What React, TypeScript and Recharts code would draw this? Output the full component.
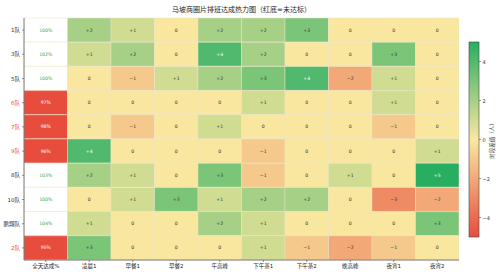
import React from 'react';
import { BarChart, Bar, XAxis, YAxis, Cell, LabelList } from 'recharts';

const title = '马坡商圈片排班达成热力图（红底=未达标）';
const teams = ['1队', '3队', '5队', '6队', '7队', '9队', '8队', '10队', '鹏翔队', '2队'];
const columns = ['全天达成%', '凌晨1', '早餐1', '早餐2', '午高峰', '下午茶1', '下午茶2', '晚高峰', '夜宵1', '夜宵2'];
const achievement = [100, 102, 100, 97, 98, 96, 103, 100, 104, 95];
const diff1 = [2, 1, 0, 0, 0, 4, 2, 0, 1, 3]; // 凌晨1
const diff2 = [1, 2, -1, 0, -1, 0, 1, 1, 0, 0]; // 早餐1
const diff3 = [0, 0, 1, 0, 0, 0, 0, 3, 0, 0]; // 早餐2
const diff4 = [2, 4, 2, 0, 1, 0, 3, 1, 2, 0]; // 午高峰
const diff5 = [2, 2, 3, 1, 0, -1, -1, 2, 1, 1]; // 下午茶1
const diff6 = [3, 0, 4, 0, 0, 0, 0, 2, 0, -1]; // 下午茶2
const diff7 = [0, 0, -2, 0, 0, 0, 1, 0, 0, -2]; // 晚高峰
const diff8 = [0, 3, 1, 1, -1, 0, 0, -3, 0, -1]; // 夜宵1
const diff9 = [0, 0, 0, 0, 0, 1, 5, -2, 3, 0]; // 夜宵2
const diffs = [diff1, diff2, diff3, diff4, diff5, diff6, diff7, diff8, diff9];
const colorbarTicks = [4, 2, 0, -2, -4];
const colorbarLabel = '时段差值（人）';

const VMIN = -5;
const VMAX = 5;
const RED = [231, 76, 60];
const YEL = [249, 231, 159];
const GRN = [39, 174, 96];
const FONT = '"DejaVu Sans", "Noto Sans CJK SC", sans-serif';

function cmap(v: number): string {
  const t = (v - VMIN) / (VMAX - VMIN);
  let a: number[], b: number[], f: number;
  if (t <= 0.5) { a = RED; b = YEL; f = t / 0.5; } else { a = YEL; b = GRN; f = (t - 0.5) / 0.5; }
  const c = a.map((x, i) => Math.round(x + (b[i] - x) * f));
  return `rgb(${c[0]},${c[1]},${c[2]})`;
}

const fmtDiff = (v: number) => (v > 0 ? `+${v}` : v < 0 ? `−${Math.abs(v)}` : '0');

const data = teams.map((team, r) => {
  const row: any = { team };
  for (let j = 0; j < 10; j++) row[`w${j}`] = 1;
  row.l0 = `${achievement[r]}%`;
  diffs.forEach((d, j) => { row[`l${j + 1}`] = fmtDiff(d[r]); });
  return row;
});

function cellFill(j: number, r: number) {
  if (j === 0) return achievement[r] >= 100 ? '#ffffff' : '#e74c3c';
  return cmap(diffs[j - 1][r]);
}
function textFill(j: number, r: number) {
  if (j === 0) return achievement[r] >= 100 ? '#27ae60' : '#ffffff';
  return Math.abs(diffs[j - 1][r]) >= 4 ? '#ffffff' : '#333333';
}

const makeLabel = (j: number) => (props: any) => {
  const { x, y, width, height, index, value } = props;
  return (
    <text x={x + width / 2} y={y + height / 2} textAnchor="middle" dominantBaseline="central"
      fontSize={4.6} fill={textFill(j, index)} fontFamily={FONT}>{value}</text>
  );
};

const YTick = (props: any) => {
  const { x, y, payload } = props;
  const r = teams.indexOf(payload.value);
  const red = achievement[r] < 100;
  return (
    <text x={x} y={y} textAnchor="end" dominantBaseline="central" fontSize={5.5}
      fill={red ? '#e74c3c' : '#333'} fontFamily={FONT}>{payload.value}</text>
  );
};

const XTick = (props: any) => {
  const { x, y, payload } = props;
  return (
    <text x={x} y={y + 4} textAnchor="middle" fontSize={5.5} fill="#222" fontFamily={FONT}>
      {columns[Math.floor(payload.value)]}
    </text>
  );
};

const Colorbar = () => {
  const top = 42, bottom = 237, left = 469, w = 10;
  const scale = (v: number) => top + ((VMAX - v) / (VMAX - VMIN)) * (bottom - top);
  const stops = [];
  for (let i = 0; i <= 20; i++) {
    const v = VMAX - (i / 20) * (VMAX - VMIN);
    stops.push(<stop key={i} offset={`${(i / 20) * 100}%`} stopColor={cmap(v)} />);
  }
  return (
    <svg width={500} height={274} style={{ position: 'absolute', left: 0, top: 0, pointerEvents: 'none' }}>
      <defs>
        <linearGradient id="cbgrad" x1="0" y1="0" x2="0" y2="1">{stops}</linearGradient>
      </defs>
      <rect x={left} y={top} width={w} height={bottom - top} fill="url(#cbgrad)" stroke="#444" strokeWidth={0.6} />
      {colorbarTicks.map((t) => (
        <g key={t}>
          <line x1={left + w} x2={left + w + 2} y1={scale(t)} y2={scale(t)} stroke="#333" strokeWidth={0.5} />
          <text x={left + w + 3.5} y={scale(t)} dominantBaseline="central" fontSize={5} fill="#333" fontFamily={FONT}>
            {t < 0 ? `−${Math.abs(t)}` : `${t}`}
          </text>
        </g>
      ))}
      <text x={492} y={(top + bottom) / 2} transform={`rotate(-90 492 ${(top + bottom) / 2})`} textAnchor="middle"
        dominantBaseline="central" fontSize={5.5} fill="#333" fontFamily={FONT}>{colorbarLabel}</text>
    </svg>
  );
};

export default function App() {
  return (
    <div style={{ position: 'absolute', left: 0, top: 0, width: 500, height: 274, background: '#fff' }}>
      <BarChart width={500} height={274} data={data} layout="vertical"
        margin={{ top: 18, right: 41, bottom: 0, left: 0 }} barCategoryGap={0}>
        <XAxis type="number" dataKey="w0" domain={[0, 10]} ticks={[0.5, 1.5, 2.5, 3.5, 4.5, 5.5, 6.5, 7.5, 8.5, 9.5]}
          height={14} tick={<XTick />} tickSize={2} axisLine={{ stroke: '#555', strokeWidth: 0.8 }}
          tickLine={{ stroke: '#333', strokeWidth: 0.5 }} allowDataOverflow />
        <XAxis xAxisId="top" orientation="top" type="number" domain={[0, 10]} height={0} tick={false}
          tickLine={false} axisLine={{ stroke: '#999', strokeWidth: 0.6 }} />
        <YAxis type="category" dataKey="team" width={24} tick={<YTick />} tickSize={2}
          axisLine={{ stroke: '#555', strokeWidth: 0.8 }} tickLine={{ stroke: '#333', strokeWidth: 0.5 }} interval={0} />
        <YAxis yAxisId="right" orientation="right" type="category" dataKey="team" width={0} tick={false}
          tickLine={false} axisLine={{ stroke: '#777', strokeWidth: 0.8 }} />
        {columns.map((c, j) => (
          <Bar key={c} dataKey={`w${j}`} stackId="s" isAnimationActive={false}>
            {data.map((_, r) => (
              <Cell key={r} fill={cellFill(j, r)} stroke="#ece3c4" strokeWidth={0.5} />
            ))}
            <LabelList dataKey={`l${j}`} content={makeLabel(j)} />
          </Bar>
        ))}
        <text x={241.5} y={10} textAnchor="middle" dominantBaseline="central" fontSize={7} fill="#222" fontFamily={FONT}>
          {title}
        </text>
      </BarChart>
      <Colorbar />
    </div>
  );
}
